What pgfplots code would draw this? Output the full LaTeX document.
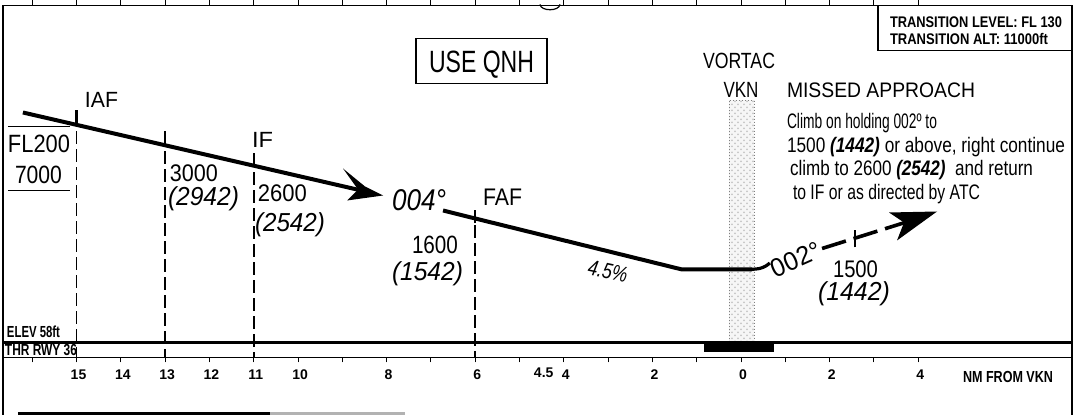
\documentclass[border=0pt]{standalone}
\usepackage{graphicx}
\usepackage{pgfplots}
\pgfplotsset{compat=1.18}
\usetikzlibrary{patterns}
\usepackage{fontspec}
\setmainfont{Liberation Sans}
\newlength\tmpw
\newcommand{\fw}[2]{\settowidth{\tmpw}{#2}\pgfmathsetmacro\sx{#1/\tmpw}\scalebox{\sx}[1]{#2}}
\begin{document}
\begin{tikzpicture}
\begin{axis}[name=main, scale only axis, width=534.5pt, height=176pt,
 xmin=-7.47, xmax=16.66, ymin=-15, ymax=337, x dir=reverse,
 axis line style={line width=0.8pt},
 xtick={-4,-2,0,2,4,6,8,10,11,12,13,14,15},
 xticklabels={4,2,0,2,4,6,8,10,11,12,13,14,15},
 minor xtick={-3,-1,1,3,5,7,9,16},
 extra x ticks={4.5}, extra x tick labels={4.5},
 extra x tick style={major tick length=0pt, xticklabel style={yshift=-1.5pt}},
 ytick=\empty,
 tick align=outside, xtick pos=both, xticklabel pos=lower,
 major tick length=2.5pt, minor tick length=2.5pt,
 tick style={black, line width=0.5pt},
 xticklabel style={font=\bfseries\fontsize{7}{8}\selectfont, xshift=1pt},
 clip=false]
% VORTAC column
\addplot[draw=gray, densely dotted, fill=gray!7, line width=0.5pt,
  postaction={pattern=crosshatch dots, pattern color=gray!45}]
  coordinates {(0.271,0) (0.271,242) (-0.293,242) (-0.293,0)} -- cycle;
% ground line
\addplot[black, line width=1.2pt] coordinates {(16.66,0) (-7.47,0)};
% runway bar
\addplot[fill=black, draw=black] coordinates {(0.835,-1) (-0.722,-1) (-0.722,-9) (0.835,-9)} -- cycle;
% dashed verticals
\addplot[black, line width=0.9pt, dash pattern=on 6.5pt off 2.5pt] coordinates {(15,211) (15,-15)};
\addplot[black, line width=0.9pt, dash pattern=on 6.5pt off 2.5pt] coordinates {(13,191) (13,-15)};
\addplot[black, line width=0.9pt, dash pattern=on 6.5pt off 2.5pt] coordinates {(11,170) (11,-15)};
\addplot[black, line width=0.9pt, dash pattern=on 6.5pt off 2.5pt] coordinates {(6,117) (6,-15)};
% fix marks
\addplot[black, line width=1.2pt] coordinates {(15,216) (15,232)};
\addplot[black, line width=1.2pt] coordinates {(13,196) (13,211)};
\addplot[black, line width=1.2pt] coordinates {(11,175) (11,189)};
\addplot[black, line width=1.2pt] coordinates {(6,119) (6,132)};
% profile
\addplot[black, line width=2pt] coordinates {(16.21,230) (8.60,152.3)};
\addplot[fill=black, draw=none] coordinates {(8.081,147) (8.488,156) (8.985,174) (8.646,153) (8.894,142)} -- cycle;
\addplot[black, line width=2pt] coordinates {(6.727,132) (6,124) (1.332,73) (-0.25,73)};
\addplot[black, line width=1.6pt, smooth] coordinates {(-0.2,73) (-0.42,74) (-0.56,76.5) (-0.65,79.5)};
% missed approach
\addplot[black, line width=1.8pt, dash pattern=on 12.5pt off 4pt] coordinates {(-1.828,94) (-3.70,120)};
\addplot[fill=black, draw=none] coordinates {(-4.424,131) (-3.340,130) (-3.679,120) (-3.520,102)} -- cycle;
\addplot[black, line width=1.2pt] coordinates {(-2.573,95) (-2.573,112)};
\end{axis}
\begin{scope}[shift={(main.north west)}, xshift=-1.5pt, yshift=2.5pt, x=0.5pt, y=-0.5pt,
  every node/.style={inner sep=0pt, outer sep=0pt}]
\path (0,0) rectangle (1078,415);
\draw[line width=1pt] (3,357)--(3,415);
\draw[line width=1pt] (1072,357)--(1072,415);
\draw[line width=1.2pt] (18,413)--(270,413);
\draw[gray!60, line width=1.2pt] (270,413)--(405,413);
\draw[line width=0.6pt] (540,4) .. controls (541,11) and (559,11) .. (560,4);
% USE QNH
\node[anchor=base, font=\fontsize{15.4}{16}\selectfont] at (481.5,72) {\fw{52.5pt}{USE QNH}};
\draw[line width=0.9pt] (416,38) rectangle (547,83);
% transition box
\node[anchor=base west, font=\bfseries\fontsize{7.7}{8}\selectfont] at (890,27) {\fw{86pt}{TRANSITION LEVEL: FL 130}};
\node[anchor=base west, font=\bfseries\fontsize{7.7}{8}\selectfont] at (890,44) {\fw{79pt}{TRANSITION ALT: 11000ft}};
\draw[line width=0.8pt] (878,5) -- (878,50) -- (1072,50);
% VORTAC
\node[anchor=base, font=\fontsize{11}{12}\selectfont] at (739,68) {\fw{36pt}{VORTAC}};
\node[anchor=base, font=\fontsize{11}{12}\selectfont] at (741,97) {\fw{17.5pt}{VKN}};
% missed approach text
\node[anchor=base west, font=\fontsize{10.5}{12}\selectfont] at (787,97) {\fw{94pt}{MISSED APPROACH}};
\node[anchor=base west, font=\fontsize{10.5}{12}\selectfont] at (787,128) {\fw{75pt}{Climb on holding 002º to}};
\node[anchor=base west, font=\fontsize{10.5}{12}\selectfont] at (787,152) {\fw{139pt}{1500 {\bfseries\itshape(1442)} or above, right continue}};
\node[anchor=base west, font=\fontsize{10.5}{12}\selectfont] at (790,175) {\fw{121.5pt}{climb to 2600 {\bfseries\itshape(2542)}\ \ and return}};
\node[anchor=base west, font=\fontsize{10.5}{12}\selectfont] at (793,199) {\fw{93.5pt}{to IF or as directed by ATC}};
% left altitude box
\node[anchor=base west, font=\fontsize{12.5}{14}\selectfont] at (8,152) {\fw{31pt}{FL200}};
\node[anchor=base west, font=\fontsize{12.5}{14}\selectfont] at (15,183) {\fw{23.5pt}{7000}};
\draw[line width=0.7pt] (8,126)--(70,126);
\draw[line width=0.7pt] (8,190)--(70,190);
% fixes
\node[anchor=base west, font=\fontsize{11}{12}\selectfont] at (85,107) {\fw{16.5pt}{IAF}};
\node[anchor=base west, font=\fontsize{11}{12}\selectfont] at (252,147) {\fw{10.5pt}{IF}};
\node[anchor=base west, font=\fontsize{12}{13}\selectfont] at (170,181) {\fw{24pt}{3000}};
\node[anchor=base west, font=\itshape\fontsize{13}{14}\selectfont] at (168,205) {\fw{35.5pt}{(2942)}};
\node[anchor=base west, font=\fontsize{12}{13}\selectfont] at (258,201) {\fw{24.5pt}{2600}};
\node[anchor=base west, font=\itshape\fontsize{13}{14}\selectfont] at (255,231) {\fw{35pt}{(2542)}};
\node[anchor=base west, font=\itshape\fontsize{15}{16}\selectfont] at (392,210) {\fw{27pt}{004°}};
\node[anchor=base west, font=\fontsize{12}{13}\selectfont] at (483,205) {\fw{19.5pt}{FAF}};
\node[anchor=base west, font=\fontsize{12.5}{13}\selectfont] at (412,253) {\fw{23pt}{1600}};
\node[anchor=base west, font=\itshape\fontsize{13}{14}\selectfont] at (392,280) {\fw{35.5pt}{(1542)}};
\node[rotate=-12, font=\itshape\fontsize{11}{12}\selectfont] at (608,271) {\fw{20pt}{4.5\%}};
\node[rotate=24, font=\fontsize{13}{14}\selectfont] at (796,259) {\fw{26pt}{002°}};
\node[anchor=base west, font=\fontsize{12}{13}\selectfont] at (833,277) {\fw{22.5pt}{1500}};
\node[anchor=base west, font=\itshape\fontsize{13}{14}\selectfont] at (818,300) {\fw{36pt}{(1442)}};
% ground labels
\node[anchor=base west, font=\bfseries\fontsize{8}{9}\selectfont] at (7,337) {\fw{26.5pt}{ELEV 58ft}};
\node[anchor=base west, font=\bfseries\fontsize{8}{9}\selectfont] at (5,355) {\fw{36pt}{THR RWY 36}};
\node[anchor=base west, font=\bfseries\fontsize{8}{9}\selectfont] at (963,382) {\fw{45pt}{NM FROM VKN}};
\end{scope}
\end{tikzpicture}
\end{document}
